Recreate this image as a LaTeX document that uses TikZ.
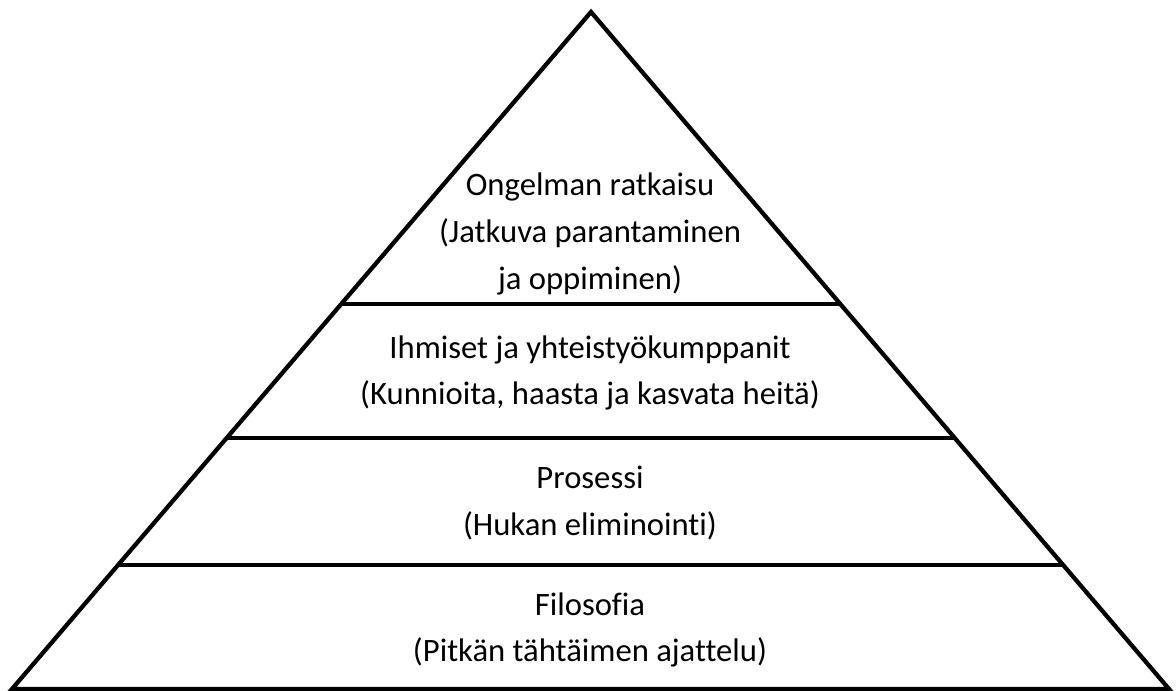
\documentclass[tikz,border=0pt]{standalone}
\usepackage{fontspec}
\setmainfont[Ligatures=NoCommon]{Carlito}
\usetikzlibrary{positioning,calc}
\definecolor{ink}{HTML}{000000}
\tikzset{
  every node/.style={font=\fontsize{24.5}{35}\selectfont},
  % --- shapes
  edge/.style  = {line width=3.2pt, draw=ink, line join=miter},
  tier/.style  = {align=center, inner sep=0pt, text=ink},
}

\begin{document}
\begin{tikzpicture}[x=0.75pt,y=-0.75pt]
  \useasboundingbox (0,0) rectangle (1176,691);
  \coordinate (top) at (591,12);
  \coordinate (bl)  at (12,689);
  \coordinate (br)  at (1169,689);
  % pyramid outline
  \draw[edge] (bl) -- (top) -- (br) -- cycle;
  % tier borders
  \foreach \t/\n in {0.431/a,0.629/b,0.817/c}{
    \coordinate (l\n) at ($(top)!\t!(bl)$);
    \coordinate (r\n) at ($(top)!\t!(br)$);
    \draw[edge] (l\n) -- (r\n);
  }
  \node[tier] (solve)  at (590,234) {Ongelman ratkaisu\\(Jatkuva parantaminen\\ja oppiminen)};
  \node[tier] (people) at (590,373) {Ihmiset ja yhteistyökumppanit\\(Kunnioita, haasta ja kasvata heitä)};
  \node[tier] (proc)   at (590,503) {Prosessi\\(Hukan eliminointi)};
  \node[tier] (phil)   at (590,630) {Filosofia\\(Pitkän tähtäimen ajattelu)};
\end{tikzpicture}
\end{document}
